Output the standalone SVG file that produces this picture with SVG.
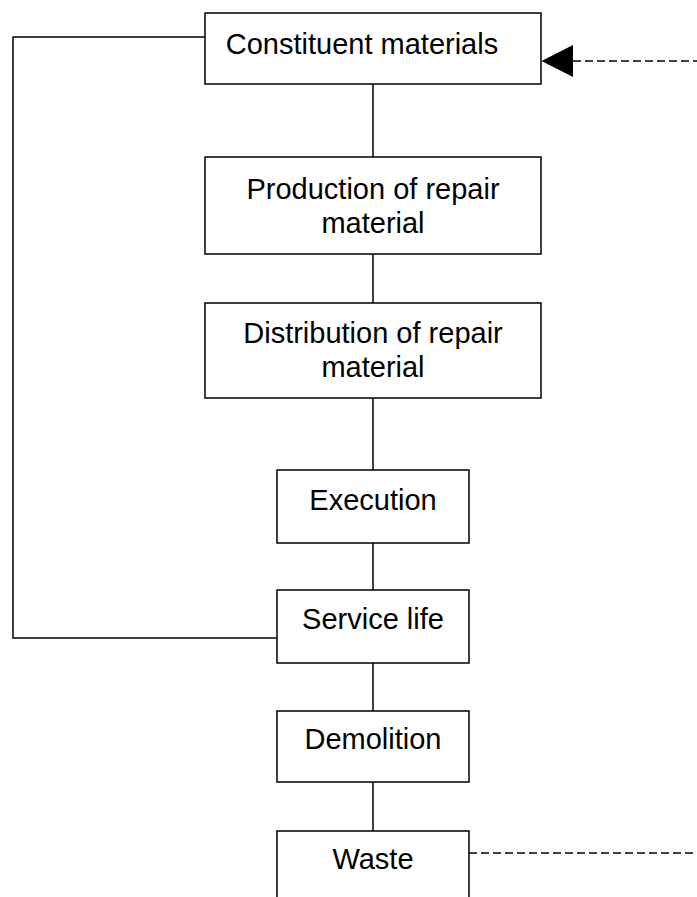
<svg xmlns="http://www.w3.org/2000/svg" width="697" height="897" viewBox="0 0 697 897">
<defs>
<style>
.box{fill:#fff;stroke:#000;stroke-width:1.5}
.ln{fill:none;stroke:#000;stroke-width:1.5}
.dash{fill:none;stroke:#000;stroke-width:1.6;stroke-dasharray:8 4}
text{font-family:"Liberation Sans",Arial,sans-serif;font-size:29px;fill:#000;text-anchor:middle}
</style>
</defs>
<rect width="697" height="897" fill="#fff"/>
<g id="connectors">
<line class="ln" x1="373" y1="84" x2="373" y2="157"/>
<line class="ln" x1="373" y1="254" x2="373" y2="303"/>
<line class="ln" x1="373" y1="398" x2="373" y2="470"/>
<line class="ln" x1="373" y1="543" x2="373" y2="590"/>
<line class="ln" x1="373" y1="663" x2="373" y2="711"/>
<line class="ln" x1="373" y1="782" x2="373" y2="831"/>
<polyline class="ln" points="277,638 13,638 13,37 205,37"/>
<line class="dash" x1="573" y1="61" x2="697" y2="61"/>
<polygon points="541.5,61 573,45 573,77" fill="#000"/>
<line class="dash" x1="469" y1="853" x2="697" y2="853"/>
</g>
<g id="n1"><rect class="box" x="205" y="13" width="336" height="71"/><text x="362" y="54">Constituent materials</text></g>
<g id="n2"><rect class="box" x="205" y="157" width="336" height="97"/><text x="373" y="199">Production of repair</text><text x="373" y="233">material</text></g>
<g id="n3"><rect class="box" x="205" y="303" width="336" height="95"/><text x="373" y="343">Distribution of repair</text><text x="373" y="377">material</text></g>
<g id="n4"><rect class="box" x="277" y="470" width="192" height="73"/><text x="373" y="510">Execution</text></g>
<g id="n5"><rect class="box" x="277" y="590" width="192" height="73"/><text x="373" y="629">Service life</text></g>
<g id="n6"><rect class="box" x="277" y="711" width="192" height="71"/><text x="373" y="749">Demolition</text></g>
<g id="n7"><rect class="box" x="277" y="831" width="192" height="80"/><text x="373" y="869">Waste</text></g>
</svg>
